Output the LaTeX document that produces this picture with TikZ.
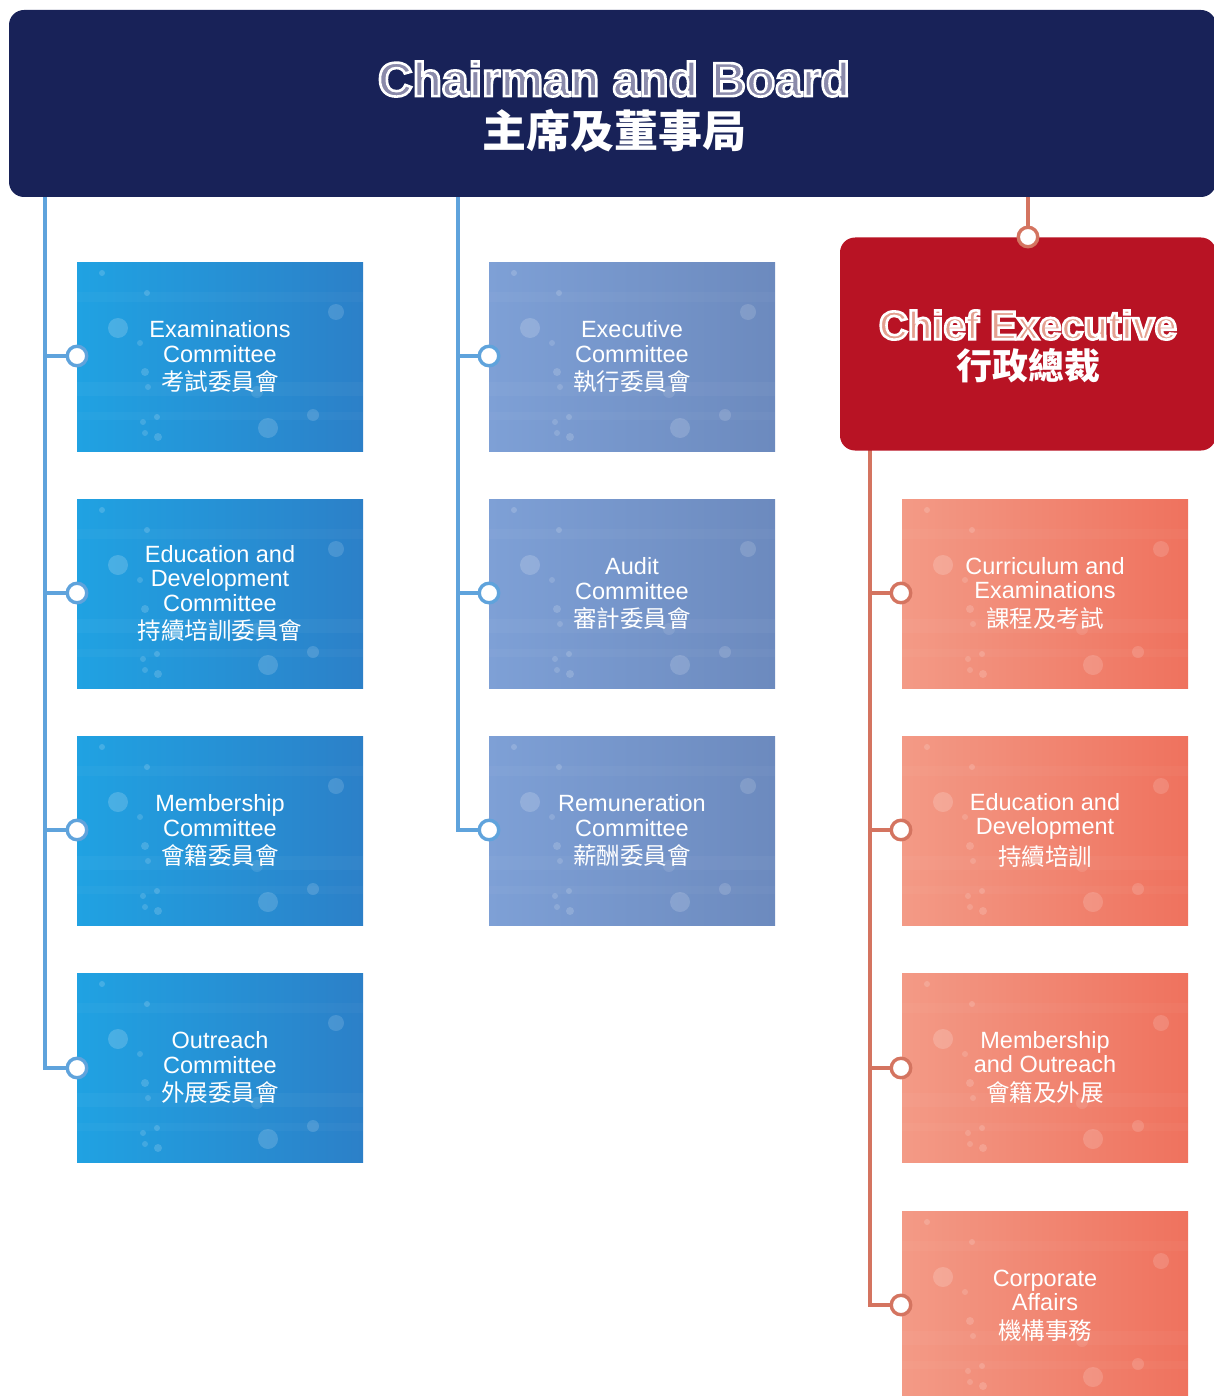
\documentclass[tikz,border=0pt]{standalone}
\usepackage{fontspec}
\setmainfont{Liberation Sans}
\newfontfamily\cjk{Noto Sans CJK TC}
\newcommand{\outlined}[1]{\special{pdf:literal direct 1 1 1 RG 2 Tr 1.3 w}#1\special{pdf:literal direct 0 Tr 0.4 w}}
\definecolor{navy}{RGB}{24,34,88}
\definecolor{bline}{RGB}{95,163,220}
\definecolor{rline}{RGB}{212,116,96}
\definecolor{cered}{RGB}{184,19,36}
\definecolor{lav}{RGB}{138,138,170}
\definecolor{salmtxt}{RGB}{228,160,144}
\definecolor{blueL}{RGB}{32,162,226}
\definecolor{blueR}{RGB}{44,128,200}
\definecolor{midL}{RGB}{126,160,214}
\definecolor{midR}{RGB}{108,138,190}
\definecolor{salL}{RGB}{243,154,134}
\definecolor{salR}{RGB}{239,114,94}
\pgfdeclarelayer{bg}
\pgfsetlayers{bg,main}
\tikzset{
  bubbles/.style={path picture={
    \coordinate (pp) at (path picture bounding box.north west);
    \fill[white,opacity=.035] ([shift={(0,120)}]pp) rectangle ++(300,14);
    \fill[white,opacity=.03] ([shift={(0,30)}]pp) rectangle ++(300,10);
    \fill[white,opacity=.03] ([shift={(0,150)}]pp) rectangle ++(300,8);
    \fill[white,opacity=.18] ([shift={(41,66)}]pp) circle (10);
    \fill[white,opacity=.16] ([shift={(191,166)}]pp) circle (10);
    \fill[white,opacity=.14] ([shift={(259,50)}]pp) circle (8);
    \fill[white,opacity=.14] ([shift={(236,153)}]pp) circle (6);
    \fill[white,opacity=.10] ([shift={(180,130)}]pp) circle (6);
    \fill[white,opacity=.16] ([shift={(25,11)}]pp) circle (3);
    \fill[white,opacity=.16] ([shift={(70,31)}]pp) circle (3);
    \fill[white,opacity=.14] ([shift={(63,81)}]pp) circle (3);
    \fill[white,opacity=.16] ([shift={(68,110)}]pp) circle (4);
    \fill[white,opacity=.14] ([shift={(71,125)}]pp) circle (3);
    \fill[white,opacity=.14] ([shift={(66,160)}]pp) circle (3);
    \fill[white,opacity=.16] ([shift={(80,155)}]pp) circle (3);
    \fill[white,opacity=.16] ([shift={(81,175)}]pp) circle (4);
    \fill[white,opacity=.14] ([shift={(68,171)}]pp) circle (3);
  }},
  cbox/.style={rectangle, minimum width=143pt, minimum height=94.5pt,
    inner sep=0pt, align=center, text=white, bubbles,
    font=\fontsize{11.75}{12.25}\selectfont},
  bluebox/.style={cbox, left color=blueL, right color=blueR},
  midbox/.style={cbox, left color=midL, right color=midR},
  salbox/.style={cbox, left color=salL, right color=salR},
  bconn/.style={draw=bline, line width=2pt},
  rconn/.style={draw=rline, line width=2pt},
  bdot/.style={circle, draw=bline, fill=white, line width=1.7pt, minimum size=9.75pt, inner sep=0pt},
  rdot/.style={circle, draw=rline, fill=white, line width=1.7pt, minimum size=9.75pt, inner sep=0pt},
}
\begin{document}
\begin{tikzpicture}[x=0.5pt,y=-0.5pt]
\useasboundingbox (0,0) rectangle (1214,1396);
% board
\node[rectangle, fill=navy, rounded corners=7.5pt, minimum width=603.5pt, minimum height=93.5pt, inner sep=0pt] (board) at (612.5,103.5) {};
\node[font=\fontsize{24}{24}\selectfont\bfseries, text=lav] (boardEn) at (614,79) {\outlined{Chairman and Board}};
\node[font=\fontsize{22}{22}\selectfont\cjk\bfseries, text=white] (boardZh) at (614,131) {主席及董事局};
% chief executive
\node[rectangle, fill=cered, rounded corners=7.5pt, minimum width=188pt, minimum height=106.5pt, inner sep=0pt] (ce) at (1028,344) {};
\node[font=\fontsize{20}{20}\selectfont\bfseries, text=salmtxt] (ceEn) at (1028,325) {\outlined{Chief Executive}};
\node[font=\fontsize{18}{18}\selectfont\cjk\bfseries, text=white] (ceZh) at (1028,366) {行政總裁};

% trunk coordinates
\coordinate (lt) at (45,197);
\coordinate (mt) at (458,197);
\coordinate (rt) at (870,450);

% boxes
\node[bluebox] (b1) at (220,356.5) {Examinations\\Committee\\[2pt]{\cjk 考試委員會}};
\node[bluebox] (b2) at (220,593.5) {Education and\\Development\\Committee\\[2pt]{\cjk 持續培訓委員會}};
\node[bluebox] (b3) at (220,830.5) {Membership\\Committee\\[2pt]{\cjk 會籍委員會}};
\node[bluebox] (b4) at (220,1067.5) {Outreach\\Committee\\[2pt]{\cjk 外展委員會}};
\node[midbox] (m1) at (632,356.5) {Executive\\Committee\\[2pt]{\cjk 執行委員會}};
\node[midbox] (m2) at (632,593.5) {Audit\\Committee\\[2pt]{\cjk 審計委員會}};
\node[midbox] (m3) at (632,830.5) {Remuneration\\Committee\\[2pt]{\cjk 薪酬委員會}};
\node[salbox] (s1) at (1045,593.5) {Curriculum and\\Examinations\\[2pt]{\cjk 課程及考試}};
\node[salbox] (s2) at (1045,830.5) {Education and\\Development\\[2pt]{\cjk 持續培訓}};
\node[salbox] (s3) at (1045,1067.5) {Membership\\and Outreach\\[2pt]{\cjk 會籍及外展}};
\node[salbox] (s4) at (1045,1305.5) {Corporate\\Affairs\\[2pt]{\cjk 機構事務}};

% circles
\node[bdot] (lc1) at (77,356) {};
\node[bdot] (lc2) at (77,593) {};
\node[bdot] (lc3) at (77,830) {};
\node[bdot] (lc4) at (77,1068) {};
\node[bdot] (mc1) at (489,356) {};
\node[bdot] (mc2) at (489,593) {};
\node[bdot] (mc3) at (489,830) {};
\node[rdot] (cec) at (1028,237) {};
\node[rdot] (rc1) at (901,593) {};
\node[rdot] (rc2) at (901,830) {};
\node[rdot] (rc3) at (901,1068) {};
\node[rdot] (rc4) at (901,1305) {};

% connectors
\begin{pgfonlayer}{bg}
\draw[bconn] (lt) |- (lc4);
\draw[bconn] (lc1 -| lt) -- (lc1);
\draw[bconn] (lc2 -| lt) -- (lc2);
\draw[bconn] (lc3 -| lt) -- (lc3);
\draw[bconn] (mt) |- (mc3);
\draw[bconn] (mc1 -| mt) -- (mc1);
\draw[bconn] (mc2 -| mt) -- (mc2);
\draw[rconn] (board.south -| cec) -- (cec);
\draw[rconn] (rt) |- (rc4);
\draw[rconn] (rc1 -| rt) -- (rc1);
\draw[rconn] (rc2 -| rt) -- (rc2);
\draw[rconn] (rc3 -| rt) -- (rc3);
\end{pgfonlayer}
\end{tikzpicture}
\end{document}
